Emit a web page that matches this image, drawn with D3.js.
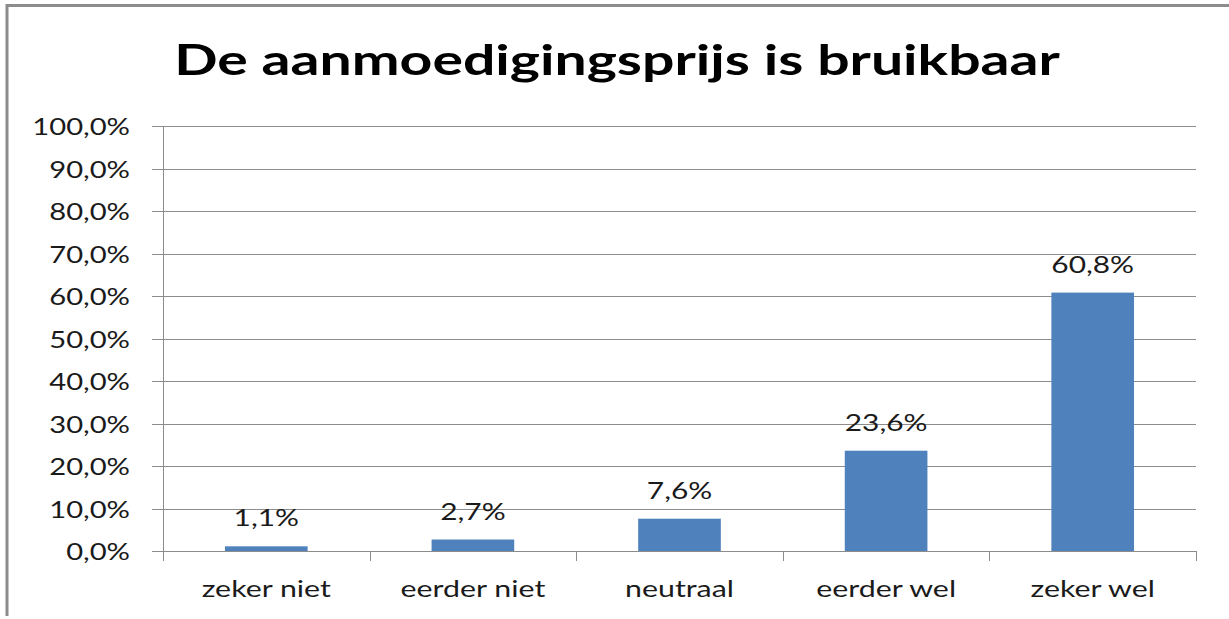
<!DOCTYPE html>
<html>
<head>
<meta charset="utf-8">
<script src="https://cdn.jsdelivr.net/npm/d3@7"></script>
<style>
  body { margin: 0; background: #fff; }
  text { font-family: Lato, "Open Sans", sans-serif; }
</style>
</head>
<body>
<svg id="chart" width="1229" height="619"></svg>
<script>
const categories = ['zeker niet', 'eerder niet', 'neutraal', 'eerder wel', 'zeker wel'];
const values = [1.1, 2.7, 7.6, 23.6, 60.8];
const yTicks = [0, 10, 20, 30, 40, 50, 60, 70, 80, 90, 100];
const title = 'De aanmoedigingsprijs is bruikbaar';

const svg = d3.select('#chart');
const margin = { top: 126, left: 163, right: 1229 - 1196, bottom: 619 - 551 };
const width = 1229, height = 619;
const grey = '#8c8c8c';
const ink = '#1a1a1a';

// the source text is rendered wide, so stretch it horizontally
const place = (sel, fx, fy, sx) => sel
  .attr('x', 0).attr('y', 0)
  .attr('transform', (d, i) => `translate(${fx(d, i)},${fy(d, i)}) scale(${sx},1)`);

// outer frame (top + left only visible)
svg.append('path')
  .attr('d', `M7,616 L7,5.5 L1229,5.5`)
  .attr('fill', 'none')
  .attr('stroke', grey)
  .attr('stroke-width', 3);

svg.append('text')
  .attr('text-anchor', 'middle')
  .attr('font-size', 42)
  .attr('font-weight', 'bold')
  .attr('fill', '#000')
  .text(title)
  .call(place, () => 617, () => 75, 1.36);

const x = d3.scaleBand()
  .domain(categories)
  .range([margin.left, width - margin.right])
  .paddingInner(0.6).paddingOuter(0.3);

const y = d3.scaleLinear()
  .domain([0, 100])
  .range([height - margin.bottom, margin.top]);

const fmt = v => d3.format('.1f')(v).replace('.', ',') + '%';

// gridlines
svg.append('g').selectAll('line')
  .data(yTicks)
  .join('line')
  .attr('x1', margin.left - 11).attr('x2', width - margin.right)
  .attr('y1', d => Math.round(y(d)) + 0.5).attr('y2', d => Math.round(y(d)) + 0.5)
  .attr('stroke', grey);

// y labels
svg.append('g').selectAll('text')
  .data(yTicks)
  .join('text')
  .attr('text-anchor', 'end')
  .attr('font-size', 23)
  .attr('fill', ink)
  .text(fmt)
  .call(place, () => 130, d => y(d) + 9, 1.27);

// y axis line
svg.append('line')
  .attr('x1', margin.left + 0.5).attr('x2', margin.left + 0.5)
  .attr('y1', y(100)).attr('y2', y(0))
  .attr('stroke', grey);

// x axis ticks between categories
const boundaries = d3.range(categories.length + 1).map(i => margin.left + i * x.step());
svg.append('g').selectAll('line')
  .data(boundaries)
  .join('line')
  .attr('x1', d => Math.round(d) + 0.5).attr('x2', d => Math.round(d) + 0.5)
  .attr('y1', y(0)).attr('y2', y(0) + 10)
  .attr('stroke', grey);

// bars
svg.append('g').selectAll('rect')
  .data(values)
  .join('rect')
  .attr('x', (d, i) => x(categories[i]))
  .attr('width', x.bandwidth())
  .attr('y', d => y(d))
  .attr('height', d => y(0) - y(d))
  .attr('fill', '#4f81bd');

// data labels
svg.append('g').selectAll('text')
  .data(values)
  .join('text')
  .attr('text-anchor', 'middle')
  .attr('font-size', 23)
  .attr('fill', ink)
  .text(fmt)
  .call(place, (d, i) => x(categories[i]) + x.bandwidth() / 2, d => y(d) - 20, 1.3);

// category labels
svg.append('g').selectAll('text')
  .data(categories)
  .join('text')
  .attr('text-anchor', 'middle')
  .attr('font-size', 23)
  .attr('fill', ink)
  .text(d => d)
  .call(place, d => x(d) + x.bandwidth() / 2, () => 597, 1.32);
</script>
</body>
</html>
